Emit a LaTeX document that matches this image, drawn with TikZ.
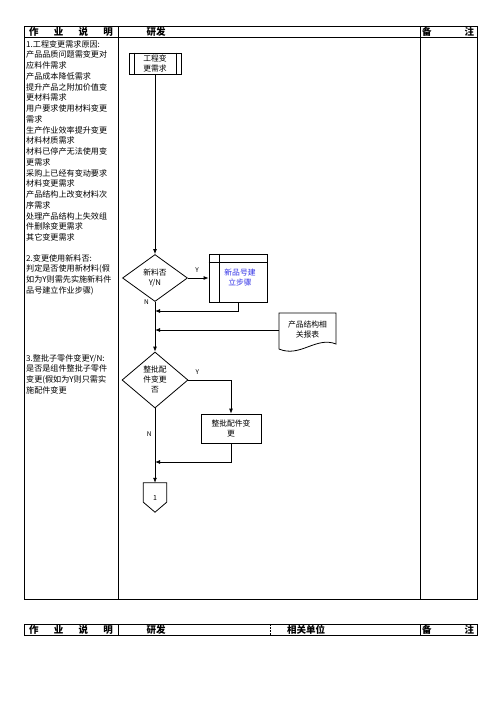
\documentclass[tikz,border=0pt]{standalone}
\usepackage{fontspec}
\setmainfont{Noto Sans CJK SC}
\usepackage{xcolor}
\usetikzlibrary{shapes.geometric,arrows.meta}
\definecolor{stepblue}{RGB}{50,50,230}

\tikzset{
  box/.style={draw, line width=0.8pt, inner sep=0pt, align=center, font=\fontsize{7.8}{10}\selectfont},
  choice/.style={draw, diamond, line width=0.8pt, inner sep=0pt, align=center, font=\fontsize{7.8}{10}\selectfont},
  flow/.style={line width=0.8pt, -{Latex[length=5pt,width=4pt]}},
  yn/.style={font=\fontsize{6.5}{8}\selectfont, inner sep=0pt},
  note/.style={anchor=north west, align=left, inner sep=0pt, font=\fontsize{8.1}{10.75}\selectfont},
  head/.style={font=\fontsize{9.5}{10}\selectfont\bfseries, inner sep=0pt},
  grid/.style={line width=0.8pt}
}

\begin{document}
\begin{tikzpicture}[x=1pt, y=-1pt]
\useasboundingbox (0,0) rectangle (496,702);

% main table
\draw[grid] (24,26) rectangle (477,599);
\draw[grid] (24,37) -- (477,37);
\draw[grid] (118,26) -- (118,599);
\draw[grid] (420,26) -- (420,599);
\node[head] (h1) at (71,31.5) {\makebox[84pt]{作\hfill 业\hfill 说\hfill 明}};
\node[head] (h2) at (156,31.5) {研发};
\node[head] (h3) at (448,31.5) {\makebox[52pt]{备\hfill 注}};

% notes
\node[note] (why) at (26,40) {1.工程变更需求原因:\\产品品质问题需变更对\\应料件需求\\产品成本降低需求\\提升产品之附加价值变\\更材料需求\\用户要求使用材料变更\\需求\\生产作业效率提升变更\\材料材质需求\\材料已停产无法使用变\\更需求\\采购上已经有变动要求\\材料变更需求\\产品结构上改变材料次\\序需求\\处理产品结构上失效组\\件删除变更需求\\其它变更需求};
\node[note] (newnote) at (26,254) {2.变更使用新料否:\\判定是否使用新材料(假\\如为Y则需先实施新料件\\品号建立作业步骤)};
\node[note] (batchnote) at (26,354) {3.整批子零件变更Y/N:\\是否是组件整批子零件\\变更(假如为Y则只需实\\施配件变更};

% flow
\node[box, minimum width=52, minimum height=21] (eng) at (155,63.5) {工程变\\更需求};
\draw[line width=0.8pt] ([xshift=6]eng.north west) -- ([xshift=6]eng.south west);
\draw[line width=0.8pt] ([xshift=-5]eng.north east) -- ([xshift=-5]eng.south east);

\node[choice, minimum width=65, minimum height=47, aspect=1.38] (isnew) at (155,278) {新料否\\Y/N};
\node[box, minimum width=58, minimum height=48, text=stepblue] (newpart) at (238,278) {\hspace*{4pt}新品号建\\\hspace*{4pt}立步骤};
\draw[line width=0.8pt] ([yshift=-9]newpart.north west) -- ([yshift=-9]newpart.north east);
\draw[line width=0.8pt] ([xshift=11]newpart.north west) -- ([xshift=11]newpart.south west);

\node[align=center, inner sep=0pt, minimum width=57, minimum height=36, font=\fontsize{7.8}{10}\selectfont] (report) at (307.5,330) {产品结构相\\关报表};
\draw[line width=0.8pt] (279,313) -- (336,313) -- (336,344) .. controls (316,336) and (300,358) .. (279,349) -- cycle;

\node[choice, minimum width=66, minimum height=56, aspect=1.18] (isbatch) at (155,380) {整批配\\件变更\\否};
\node[box, minimum width=60, minimum height=29] (batch) at (231,428.5) {整批配件变\\更};

\node[inner sep=0pt, minimum width=23, minimum height=29, font=\fontsize{7}{8}\selectfont] (page1) at (155,497.5) {1};
\draw[line width=0.8pt] (page1.north west) -- (page1.north east) -- ([yshift=10]page1.south east) -- (page1.south) -- ([yshift=10]page1.south west) -- cycle;

\coordinate (join1) at (155,311);
\coordinate (join2) at (155,462);

\draw[flow] (eng) -- (isnew);
\draw[flow] (isnew.east) -- (newpart.west) node[yn, pos=.45, above=5pt] {Y};
\node[yn, left=6pt] at (isnew.south) {N};
\draw[flow] (newpart.south) |- (join1);
\draw[flow] (report.west) -- (report.west -| isnew.south);
\draw[flow] (isnew.south) -- (isbatch.north);
\draw[flow] (isbatch.east) -| (batch.north);
\node[yn] at ([xshift=9,yshift=8]isbatch.east) {Y};
\draw[flow] (batch.south) |- (join2);
\draw[flow] (isbatch.south) -- (page1.north) node[yn, pos=.35, left=3pt] {N};

% second header
\draw[grid] (24,624) rectangle (477,635);
\draw[grid] (118,624) -- (118,635);
\draw[grid] (420,624) -- (420,635);
\draw[line width=0.6pt, dash pattern=on 1.5pt off 1.5pt] (270,624) -- (270,635);
\node[head] (f1) at (71,629.5) {\makebox[84pt]{作\hfill 业\hfill 说\hfill 明}};
\node[head] (f2) at (156,629.5) {研发};
\node[head] (f3) at (306,629.5) {相关单位};
\node[head] (f4) at (448,629.5) {\makebox[52pt]{备\hfill 注}};
\end{tikzpicture}
\end{document}
